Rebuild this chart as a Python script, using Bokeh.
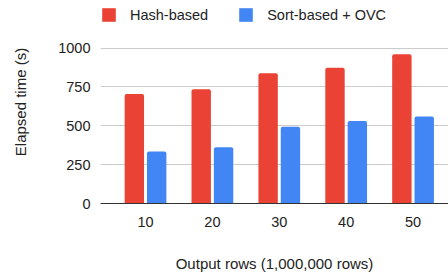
from bokeh.plotting import figure
from bokeh.models import (ColumnDataSource, Range1d, FixedTicker, Legend, LegendItem)
from bokeh.transform import dodge
from bokeh.embed import file_html
from bokeh.resources import INLINE

rows = [10, 20, 30, 40, 50]
hash_based = [705, 735, 838, 873, 960]
sort_ovc = [335, 362, 494, 530, 560]
y_ticks = [0, 250, 500, 750, 1000]

RED = "#EA4335"
BLUE = "#4285F4"
FONT = "Liberation Sans"
TXT = "#222222"

src = ColumnDataSource(dict(rows=rows, hash=hash_based, sort=sort_ovc))

# frame spans the whole height above the x axis so the legend (inside it) shows
p = figure(width=448, height=274, output_backend="svg", toolbar_location=None,
           x_range=Range1d(3.27, 55.3), y_range=Range1d(0, 1306),
           min_border_left=100, min_border_right=0, min_border_top=0,
           min_border_bottom=65)
p.outline_line_color = None

r1 = p.vbar(x=dodge('rows', -1.67), top='hash', width=2.9, bottom=0, source=src,
            fill_color=RED, line_color=None, border_radius=(2, 2, 0, 0))
r2 = p.vbar(x=dodge('rows', 1.67), top='sort', width=2.9, bottom=0, source=src,
            fill_color=BLUE, line_color=None, border_radius=(2, 2, 0, 0))

# axes
p.xaxis.ticker = FixedTicker(ticks=rows)
p.xaxis.major_tick_line_color = None
p.xaxis.minor_tick_line_color = None
p.xaxis.major_tick_out = 0
p.xaxis.axis_line_color = "#333333"
p.xaxis.major_label_standoff = 13
p.xaxis.major_label_text_font = FONT
p.xaxis.major_label_text_font_size = "14.5px"
p.xaxis.major_label_text_color = TXT
p.xaxis.axis_label = "Output rows (1,000,000 rows)"
p.xaxis.axis_label_text_font = FONT
p.xaxis.axis_label_text_font_size = "15px"
p.xaxis.axis_label_text_font_style = "normal"
p.xaxis.axis_label_text_color = TXT
p.xaxis.axis_label_standoff = 25

p.yaxis.ticker = FixedTicker(ticks=y_ticks)
p.yaxis.bounds = (0, 1112)
p.yaxis.axis_line_color = None
p.yaxis.major_tick_line_color = None
p.yaxis.minor_tick_line_color = None
p.yaxis.major_tick_out = 0
p.yaxis.major_label_standoff = 10
p.yaxis.major_label_text_font = FONT
p.yaxis.major_label_text_font_size = "14.5px"
p.yaxis.major_label_text_color = TXT
p.yaxis.axis_label = "Elapsed time (s)"
p.yaxis.axis_label_text_font = FONT
p.yaxis.axis_label_text_font_size = "15px"
p.yaxis.axis_label_text_font_style = "normal"
p.yaxis.axis_label_text_color = TXT
p.yaxis.axis_label_standoff = 26

p.xgrid.grid_line_color = None
p.ygrid.grid_line_color = "#cccccc"
p.ygrid.ticker = FixedTicker(ticks=y_ticks)

legend = Legend(items=[LegendItem(label="Hash-based", renderers=[r1]),
                       LegendItem(label="Sort-based + OVC", renderers=[r2])],
                orientation="horizontal", location=(0, 180),
                glyph_width=17, glyph_height=17, label_standoff=13, spacing=29,
                padding=0, margin=0, border_line_color=None,
                background_fill_alpha=0,
                label_text_font=FONT, label_text_font_size="14.5px",
                label_text_color=TXT)
p.add_layout(legend, "center")

open("out.html", "w").write(file_html(p, INLINE))
